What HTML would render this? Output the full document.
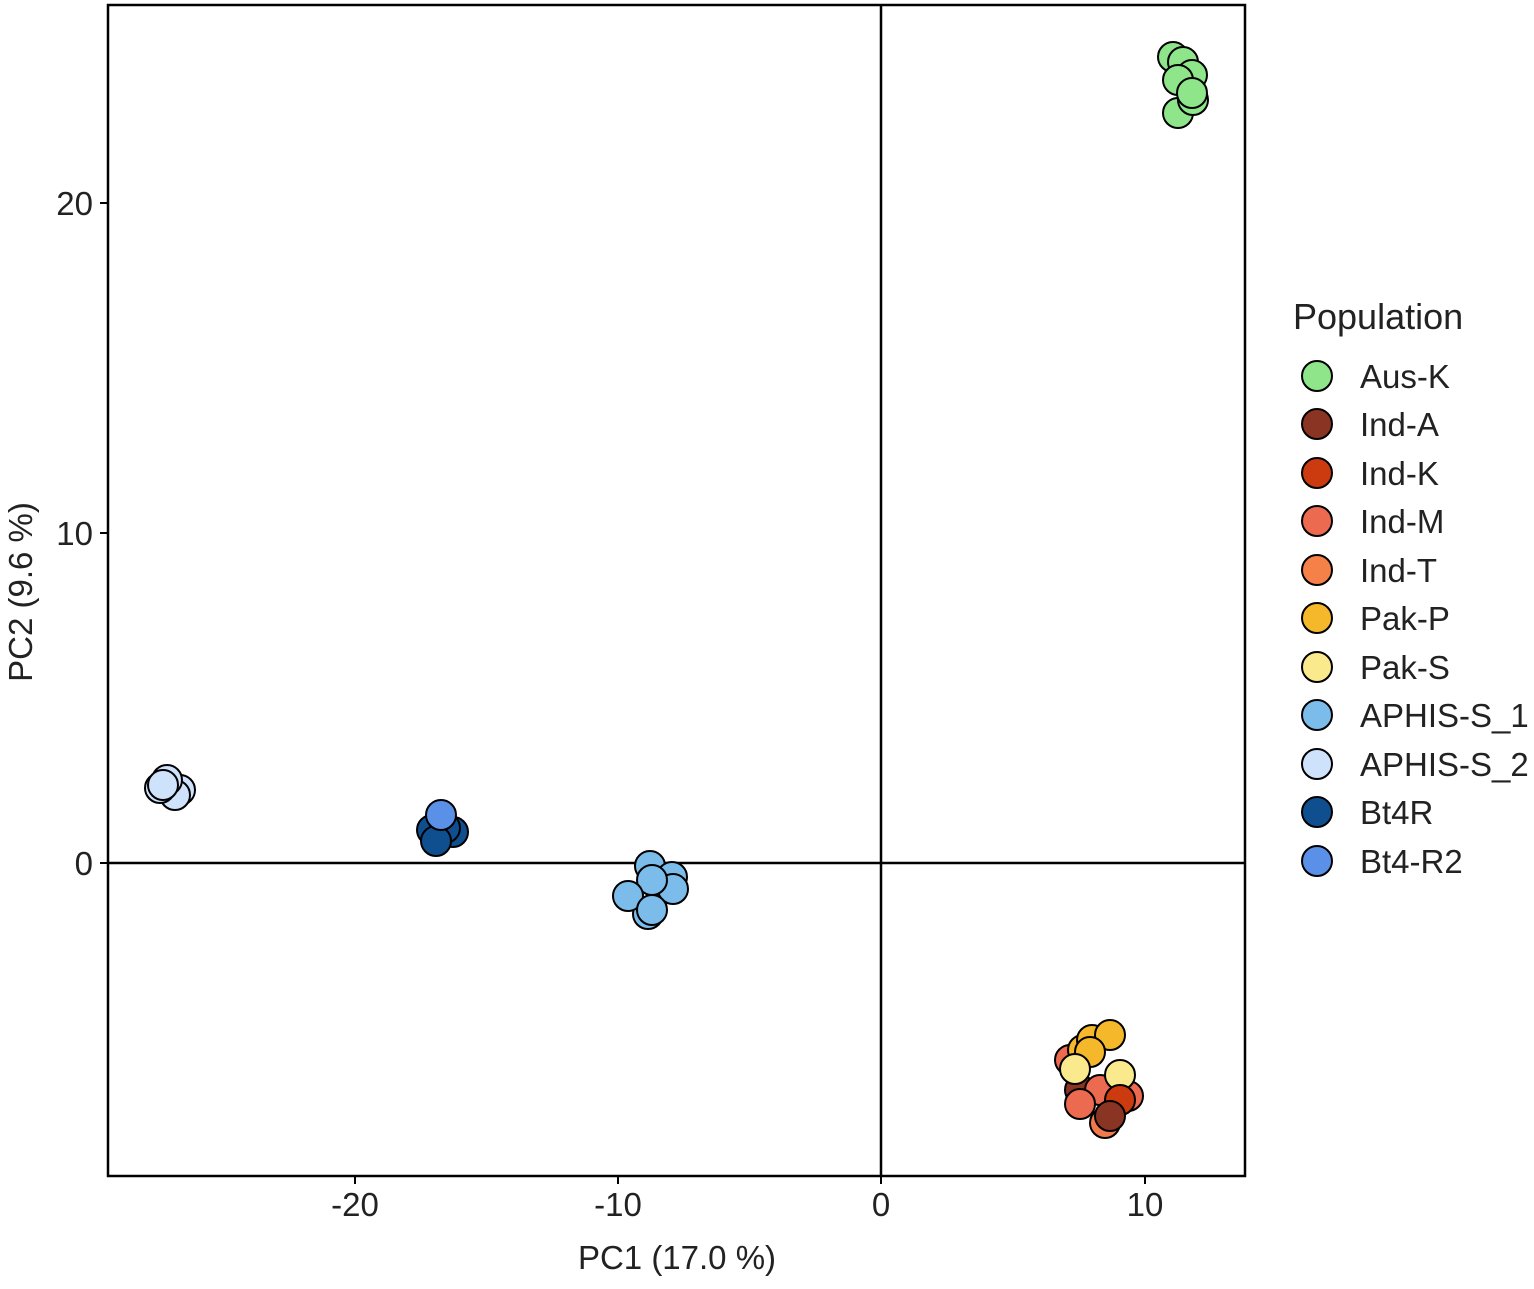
<!DOCTYPE html><html><head><style>body{margin:0;background:#fff}</style></head><body>
<svg width="1534" height="1284" xmlns="http://www.w3.org/2000/svg" font-family="Liberation Sans, Arial, sans-serif">
<rect x="108" y="5" width="1137" height="1171" fill="#fff" stroke="#000" stroke-width="2.5"/>
<line x1="108" y1="863" x2="1245" y2="863" stroke="#000" stroke-width="2.5"/>
<line x1="881" y1="5" x2="881" y2="1176" stroke="#000" stroke-width="2.5"/>
<g stroke="#000" stroke-width="2">
<line x1="355" y1="1176" x2="355" y2="1184"/><line x1="618" y1="1176" x2="618" y2="1184"/><line x1="881" y1="1176" x2="881" y2="1184"/><line x1="1145" y1="1176" x2="1145" y2="1184"/>
<line x1="100" y1="203" x2="108" y2="203"/><line x1="100" y1="533" x2="108" y2="533"/><line x1="100" y1="863" x2="108" y2="863"/>
</g>
<g font-size="33" fill="#222" text-anchor="middle">
<text x="355" y="1216">-20</text><text x="618" y="1216">-10</text><text x="881" y="1216">0</text><text x="1145" y="1216">10</text>
<text x="677" y="1269">PC1 (17.0 %)</text>
</g>
<g font-size="33" fill="#222" text-anchor="end">
<text x="93" y="215">20</text><text x="93" y="545">10</text><text x="93" y="875">0</text>
</g>
<text transform="translate(32,592) rotate(-90)" font-size="33" fill="#222" text-anchor="middle">PC2 (9.6 %)</text>
<g stroke="#000" stroke-width="2" >
<g fill="#8ee58a">
<circle cx="1173" cy="57" r="15"/><circle cx="1183" cy="62" r="15"/><circle cx="1192" cy="75" r="15"/><circle cx="1178" cy="80" r="15"/><circle cx="1178" cy="113" r="15"/><circle cx="1193" cy="100" r="15"/><circle cx="1192" cy="93" r="15"/>
</g>
<g fill="#cfe2fb">
<circle cx="180" cy="790" r="15"/><circle cx="175" cy="795" r="15"/><circle cx="167" cy="780" r="15"/><circle cx="160" cy="788" r="15"/><circle cx="163" cy="785" r="15"/>
</g>
<g fill="#0f4f8f">
<circle cx="453" cy="832" r="15"/><circle cx="432" cy="830" r="15"/><circle cx="445" cy="828" r="15"/><circle cx="436" cy="841" r="15"/>
</g>
<circle cx="441" cy="815" r="15" fill="#5b90e8"/>
<g fill="#7bbcea">
<circle cx="650" cy="866" r="15"/><circle cx="672" cy="877" r="15"/><circle cx="673" cy="889" r="15"/><circle cx="652" cy="880" r="15"/><circle cx="648" cy="914" r="15"/><circle cx="628" cy="896" r="15"/><circle cx="652" cy="910" r="15"/>
</g>
<circle cx="1105" cy="1123" r="15" fill="#f07a4a"/>
<circle cx="1070" cy="1060" r="15" fill="#ec6a50"/>
<circle cx="1080" cy="1090" r="15" fill="#8a3524"/>
<circle cx="1100" cy="1090" r="15" fill="#ec6a50"/>
<circle cx="1128" cy="1096" r="15" fill="#ec6a50"/>
<circle cx="1083" cy="1050" r="15" fill="#f5b82a"/>
<circle cx="1092" cy="1040" r="15" fill="#f5b82a"/>
<circle cx="1110" cy="1035" r="15" fill="#f5b82a"/>
<circle cx="1090" cy="1052" r="15" fill="#f5b82a"/>
<circle cx="1075" cy="1069" r="15" fill="#fbe98d"/>
<circle cx="1120" cy="1075" r="15" fill="#fbe98d"/>
<circle cx="1120" cy="1100" r="15" fill="#cc3a10"/>
<circle cx="1080" cy="1104" r="15" fill="#ec6a50"/>
<circle cx="1110" cy="1116" r="15" fill="#8a3524"/>
</g>
<text x="1293" y="329" font-size="36" fill="#222">Population</text>
<g stroke="#000" stroke-width="2">
<circle cx="1317" cy="376" r="15" fill="#8ee58a"/>
<circle cx="1317" cy="424" r="15" fill="#8a3524"/>
<circle cx="1317" cy="473" r="15" fill="#cc3a10"/>
<circle cx="1317" cy="521" r="15" fill="#ec6a50"/>
<circle cx="1317" cy="570" r="15" fill="#f58048"/>
<circle cx="1317" cy="618" r="15" fill="#f5b82a"/>
<circle cx="1317" cy="667" r="15" fill="#fbe98d"/>
<circle cx="1317" cy="715" r="15" fill="#7bbcea"/>
<circle cx="1317" cy="764" r="15" fill="#cfe2fb"/>
<circle cx="1317" cy="812" r="15" fill="#0f4f8f"/>
<circle cx="1317" cy="861" r="15" fill="#5b90e8"/>
</g>
<g font-size="33" fill="#222">
<text x="1360" y="388">Aus-K</text><text x="1360" y="436">Ind-A</text><text x="1360" y="485">Ind-K</text><text x="1360" y="533">Ind-M</text><text x="1360" y="582">Ind-T</text><text x="1360" y="630">Pak-P</text><text x="1360" y="679">Pak-S</text><text x="1360" y="727">APHIS-S_1</text><text x="1360" y="776">APHIS-S_2</text><text x="1360" y="824">Bt4R</text><text x="1360" y="873">Bt4-R2</text>
</g>
</svg></body></html>
